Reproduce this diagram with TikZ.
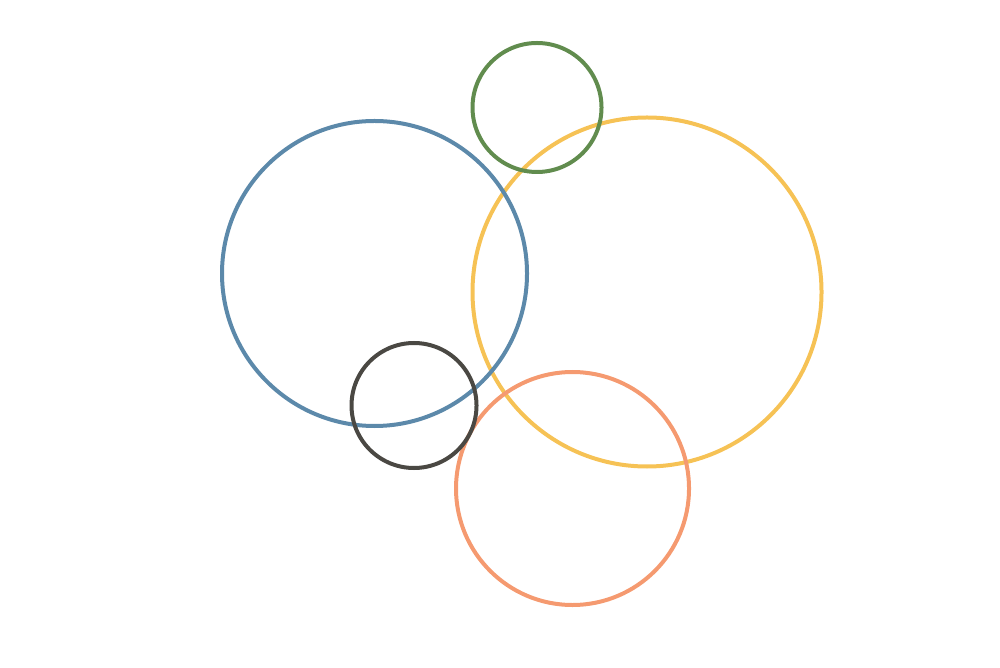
\documentclass[tikz,border=0pt]{standalone}
\usepackage{tikz}
\usetikzlibrary{positioning}

\definecolor{ringblue}{HTML}{5C89AA}
\definecolor{ringgreen}{HTML}{618C4E}
\definecolor{ringyellow}{HTML}{F6C255}
\definecolor{ringgrey}{HTML}{4A4843}
\definecolor{ringorange}{HTML}{F59A70}

\begin{document}
\begin{tikzpicture}[ring/.style={line width=0.04cm}]
                \useasboundingbox (0,0) rectangle (10,6.67);
                \draw[ring, ringyellow] (6.47, 3.75) circle (1.745);
                \draw[ring, ringorange] (5.725, 1.785) circle (1.165);
                \draw[ring, ringblue] (3.745, 3.935) circle (1.525);
                \draw[ring, ringgreen] (5.37, 5.595) circle (0.645);
                \draw[ring, ringgrey] (4.14, 2.615) circle (0.625);
            \end{tikzpicture}
\end{document}
